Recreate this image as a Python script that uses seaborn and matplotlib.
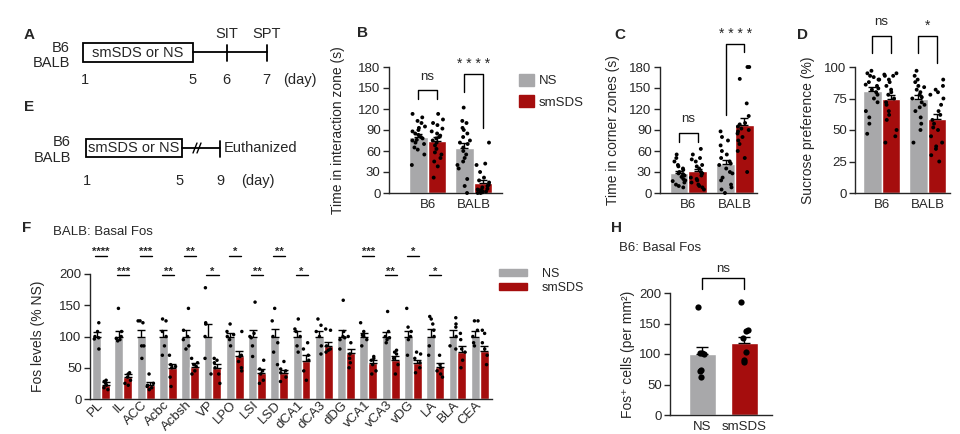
import numpy as np
import pandas as pd
import matplotlib
matplotlib.use("Agg")
import matplotlib.pyplot as plt
from matplotlib.patches import Patch, Rectangle
import seaborn as sns

sns.set_theme(style="ticks")
plt.rcParams["font.family"] = ["Liberation Sans", "DejaVu Sans"]
plt.rcParams["font.size"] = 9.5
plt.rcParams["axes.linewidth"] = 1.0
np.random.seed(7)  # only for dot jitter

GRAY = "#a8a8aa"
RED = "#a50d0d"
W, H = 960, 434

STRAINS = ["B6", "BALB"]
GROUPS = ["NS", "smSDS"]

# ---------------------------------------------------------------
# data (bar order: B6-NS, B6-smSDS, BALB-NS, BALB-smSDS)
# ---------------------------------------------------------------
SIT_MEAN = [80, 74, 65, 15]
SIT_SEM = [5, 6, 7, 4]
SIT_PTS = [
    [113, 108, 103, 100, 95, 93, 90, 88, 85, 83, 80, 78, 76, 75, 72, 70, 65, 62, 55, 40],
    [113, 105, 100, 97, 92, 88, 85, 82, 80, 78, 75, 72, 68, 63, 58, 55, 50, 45, 38, 22],
    [122, 103, 100, 93, 90, 85, 80, 75, 72, 70, 65, 60, 55, 50, 45, 40, 35, 20, 10, 0],
    [72, 42, 40, 30, 22, 18, 15, 12, 10, 8, 6, 5, 4, 3, 2, 1, 0, 0],
]

CORNER_MEAN = [29, 31, 42, 97]
CORNER_SEM = [3, 4, 5, 10]
CORNER_PTS = [
    [55, 50, 45, 40, 38, 35, 33, 30, 28, 27, 25, 23, 20, 18, 17, 15, 12, 10, 8],
    [63, 55, 50, 48, 45, 40, 38, 35, 30, 28, 25, 22, 20, 18, 15, 12, 10, 8, 5],
    [88, 80, 75, 68, 60, 55, 50, 45, 42, 40, 35, 30, 28, 22, 18, 12, 8, 5, 0],
    [180, 180, 163, 128, 110, 100, 98, 95, 92, 90, 88, 85, 80, 75, 70, 60, 50, 30],
]

SPT_MEAN = [81, 75, 75, 59]
SPT_SEM = [3, 3, 3, 4]
SPT_PTS = [
    [97, 95, 93, 92, 90, 90, 88, 86, 85, 83, 82, 80, 78, 75, 72, 65, 60, 55, 47],
    [95, 94, 93, 93, 90, 88, 85, 82, 80, 78, 75, 72, 70, 65, 62, 58, 50, 45, 40],
    [97, 93, 90, 88, 85, 84, 82, 80, 78, 76, 75, 72, 70, 68, 65, 60, 55, 50, 40],
    [90, 85, 82, 80, 78, 75, 70, 65, 62, 58, 55, 52, 50, 45, 40, 37, 35, 30, 25],
]

REGIONS = ["PL", "IL", "ACC", "Acbc", "Acbsh", "VP", "LPO", "LSI", "LSD",
           "dCA1", "dCA3", "dDG", "vCA1", "vCA3", "vDG", "LA", "BLA", "CEA"]
FOS_NS = [100] * 18
FOS_NS_SEM = [8, 9, 11, 10, 10, 20, 6, 10, 12, 9, 9, 10, 6, 8, 9, 12, 10, 9]
FOS_SDS = [23, 35, 23, 49, 52, 49, 69, 42, 41, 61, 85, 73, 57, 62, 57, 51, 76, 77]
FOS_SDS_SEM = [4, 5, 4, 7, 5, 7, 8, 6, 5, 9, 7, 7, 5, 7, 6, 7, 9, 8]
FOS_NS_PTS = [
    [122, 108, 100, 98, 96, 80], [145, 108, 100, 97, 95, 93], [125, 125, 122, 85, 85, 65],
    [128, 125, 108, 100, 85, 70], [145, 110, 100, 95, 85, 80], [178, 122, 120, 100, 65, 40],
    [120, 108, 103, 100, 95, 85], [155, 105, 100, 98, 85, 68], [145, 125, 100, 90, 75, 55],
    [128, 112, 108, 100, 85, 75], [128, 118, 108, 100, 85, 72], [158, 108, 100, 98, 95, 80],
    [122, 108, 102, 100, 95, 85], [140, 108, 100, 98, 95, 90], [145, 115, 108, 100, 95, 70],
    [132, 128, 120, 110, 100, 85, 70], [130, 120, 115, 100, 85, 80], [125, 125, 110, 100, 90, 85],
]
FOS_SDS_PTS = [
    [30, 28, 25, 22, 18, 15], [42, 40, 35, 30, 25, 22], [40, 25, 22, 20, 18, 15],
    [70, 55, 52, 50, 35, 20], [65, 58, 55, 52, 45, 40], [65, 62, 58, 50, 40, 25],
    [108, 70, 68, 60, 50, 45], [62, 48, 45, 40, 30, 25], [60, 48, 45, 42, 35, 28],
    [90, 80, 70, 62, 45, 30], [112, 110, 85, 80, 78, 75], [100, 90, 72, 65, 58, 50],
    [68, 65, 62, 55, 45, 40], [78, 75, 72, 65, 55, 40], [75, 72, 65, 58, 50, 42],
    [70, 55, 50, 45, 40, 35], [105, 95, 80, 75, 62, 50], [110, 105, 90, 80, 70, 55],
]
FOS_STARS = ["****", "***", "***", "**", "**", "*", "*", "**", "**",
             "*", "", "", "***", "**", "*", "*", "", ""]
FOS_STAR_Y = [229, 198, 229, 198, 229, 198, 229, 198, 229,
              198, 0, 0, 229, 198, 229, 198, 0, 0]

B6_FOS_MEAN = [100, 118]
B6_FOS_SEM = [12, 10]
B6_FOS_PTS = [[177, 102, 101, 100, 74, 72, 62], [185, 140, 137, 126, 103, 90, 87]]


# ---------------------------------------------------------------
def px_axes(fig, x0, y0, x1, y1):
    return fig.add_axes([x0 / W, 1 - y1 / H, (x1 - x0) / W, (y1 - y0) / H])


def bar_dots(ax, cats, means, sems, points, dot_size):
    mdf = pd.DataFrame({
        "cat": [c for c in cats for g in GROUPS],
        "group": [g for c in cats for g in GROUPS],
        "value": means,
    })
    sns.barplot(data=mdf, x="cat", y="value", hue="group", order=cats, hue_order=GROUPS,
                palette=[GRAY, RED], saturation=1, errorbar=None, legend=False, ax=ax)
    bars = sorted(ax.patches, key=lambda p: p.get_x())
    xs = [p.get_x() + p.get_width() / 2 for p in bars]
    ax.errorbar(xs, means, yerr=[np.zeros(len(sems)), sems], fmt="none", ecolor="black",
                elinewidth=1, capsize=3, capthick=1, zorder=3)
    rows = []
    i = 0
    for c in cats:
        for g in GROUPS:
            for v in points[i]:
                rows.append((c, g, v))
            i += 1
    pdf = pd.DataFrame(rows, columns=["cat", "group", "value"])
    sns.stripplot(data=pdf, x="cat", y="value", hue="group", order=cats, hue_order=GROUPS,
                  palette=["black", "black"], dodge=True, jitter=0.3, size=dot_size,
                  linewidth=0, legend=False, ax=ax, zorder=4)
    for coll in ax.collections:
        coll.set_clip_on(False)
    return xs


def style_axes(ax, ylim, yticks, ylabel, xlim, label_x):
    ax.set_ylim(*ylim)
    ax.set_yticks(yticks)
    ax.set_xlim(*xlim)
    ax.set_xlabel("")
    ax.set_ylabel(ylabel, fontsize=10)
    ax.yaxis.set_label_coords(label_x, 0.5)
    sns.despine(ax=ax)
    ax.tick_params(axis="y", length=4, width=1, pad=2, labelsize=9.5)
    ax.tick_params(axis="x", length=0, pad=4, labelsize=9.5)
    ax.patch.set_alpha(0)


def bracket(ax, x0, x1, top, lo0, lo1):
    ax.plot([x0, x0, x1, x1], [lo0, top, top, lo1], color="black", lw=1, clip_on=False)


fig = plt.figure(figsize=(W / 100, H / 100), dpi=100)

# overlay for schematic + panel letters (pixel coordinates)
ov = fig.add_axes([0, 0, 1, 1], zorder=-1)
ov.set_xlim(0, W)
ov.set_ylim(H, 0)
ov.axis("off")

for letter, (lx, ly) in {"A": (24, 35), "E": (24, 107), "B": (357, 33), "C": (614, 35),
                         "D": (797, 35), "F": (22, 228), "H": (611, 228)}.items():
    ov.text(lx, ly, letter, fontsize=11, fontweight="bold", va="center", ha="left")

# A: timeline
ov.text(70, 48, "B6", ha="right", va="center", fontsize=10.5)
ov.text(70, 63, "BALB", ha="right", va="center", fontsize=10.5)
ov.add_patch(Rectangle((83, 43), 110, 19, fill=False, lw=1.3, ec="black"))
ov.text(138, 53, "smSDS or NS", ha="center", va="center", fontsize=10.5)
ov.plot([193, 267], [52, 52], color="black", lw=1.3)
for tx, lab in [(227, "SIT"), (267, "SPT")]:
    ov.plot([tx, tx], [45, 61], color="black", lw=1.3)
    ov.text(tx, 34, lab, ha="center", va="center", fontsize=10.5)
for tx, lab in [(85, "1"), (193, "5"), (226, "6"), (266, "7"), (300, "(day)")]:
    ov.text(tx, 80, lab, ha="center", va="center", fontsize=10.5)

# E: timeline
ov.text(71, 142, "B6", ha="right", va="center", fontsize=10.5)
ov.text(71, 158, "BALB", ha="right", va="center", fontsize=10.5)
ov.add_patch(Rectangle((86, 139), 96, 18, fill=False, lw=1.3, ec="black"))
ov.text(134, 148, "smSDS or NS", ha="center", va="center", fontsize=10.5)
ov.plot([182, 220], [148, 148], color="black", lw=1.3)
for dx in (-2, 2):
    ov.plot([195 + dx, 199 + dx], [153, 143], color="black", lw=1)
ov.plot([220, 220], [141, 157], color="black", lw=1.3)
ov.text(224, 148, "Euthanized", ha="left", va="center", fontsize=10.5)
for tx, lab in [(87, "1"), (180, "5"), (220, "9"), (258, "(day)")]:
    ov.text(tx, 181, lab, ha="center", va="center", fontsize=10.5)

# B: social interaction
axB = px_axes(fig, 389, 67, 502, 193)
xs = bar_dots(axB, STRAINS, SIT_MEAN, SIT_SEM, SIT_PTS, 2.8)
style_axes(axB, (0, 180), range(0, 181, 30), "Time in interaction zone (s)", (-0.84, 1.62), -0.39)
bracket(axB, xs[0], xs[1], 147, 134, 134)
axB.text((xs[0] + xs[1]) / 2, 161, "ns", ha="center", va="baseline", fontsize=9.5)
bracket(axB, xs[2], xs[3], 170, 144, 93)
axB.text((xs[2] + xs[3]) / 2, 179, "* * * *", ha="center", va="baseline", fontsize=10)

# C: corner zones
axC = px_axes(fig, 660, 67, 757, 193)
xs = bar_dots(axC, STRAINS, CORNER_MEAN, CORNER_SEM, CORNER_PTS, 2.8)
style_axes(axC, (0, 180), range(0, 181, 30), "Time in corner zones (s)", (-0.61, 1.47), -0.41)
bracket(axC, xs[0], xs[1], 86, 73, 73)
axC.text((xs[0] + xs[1]) / 2, 102, "ns", ha="center", va="baseline", fontsize=9.5)
bracket(axC, xs[2], xs[3], 213, 111, 201)
axC.text((xs[2] + xs[3]) / 2, 222, "* * * *", ha="center", va="baseline", fontsize=10)

# D: sucrose preference
axD = px_axes(fig, 855, 67, 950, 193)
xs = bar_dots(axD, STRAINS, SPT_MEAN, SPT_SEM, SPT_PTS, 2.8)
style_axes(axD, (0, 100), range(0, 101, 25), "Sucrose preference (%)", (-0.58, 1.49), -0.42)
bracket(axD, xs[0], xs[1], 124.5, 111, 111)
axD.text((xs[0] + xs[1]) / 2, 133, "ns", ha="center", va="baseline", fontsize=9.5)
bracket(axD, xs[2], xs[3], 124.5, 111, 103)
axD.text((xs[2] + xs[3]) / 2, 129.8, "*", ha="center", va="baseline", fontsize=10)

fig.legend([Patch(color=GRAY), Patch(color=RED)], GROUPS, loc="upper left",
           bbox_to_anchor=(512 / W, 1 - 67 / H), frameon=False, borderpad=0,
           handlelength=1.2, handleheight=1.05, handletextpad=0.35, labelspacing=0.6,
           fontsize=9.5)

# F: BALB basal Fos
axF = px_axes(fig, 90, 274, 492, 399)
fos_means = [v for pair in zip(FOS_NS, FOS_SDS) for v in pair]
fos_sems = [v for pair in zip(FOS_NS_SEM, FOS_SDS_SEM) for v in pair]
fos_pts = [v for pair in zip(FOS_NS_PTS, FOS_SDS_PTS) for v in pair]
bar_dots(axF, REGIONS, fos_means, fos_sems, fos_pts, 2.5)
style_axes(axF, (0, 200), range(0, 201, 50), "Fos levels (% NS)", (-0.5, 17.55), -0.112)
axF.set_xticks(range(len(REGIONS)))
axF.set_xticklabels(REGIONS, rotation=45, ha="right", va="center", rotation_mode="anchor")
axF.tick_params(axis="x", pad=3)
for i, (st, sy) in enumerate(zip(FOS_STARS, FOS_STAR_Y)):
    if st:
        axF.plot([i - 0.27, i + 0.27], [sy, sy], color="black", lw=1, clip_on=False)
        axF.text(i, sy + 1, st, ha="center", va="baseline", fontsize=8, fontweight="bold")
axF.text(-2.16, 267, "BALB: Basal Fos", ha="left", va="center", fontsize=9.5, clip_on=False)
fig.legend([Patch(color=GRAY), Patch(color=RED)], GROUPS, loc="upper left",
           bbox_to_anchor=(493 / W, 1 - 262 / H), frameon=False, borderpad=0,
           handlelength=2.2, handleheight=0.5, handletextpad=1.2, labelspacing=0.15,
           fontsize=9)

# H: B6 basal Fos
axH = px_axes(fig, 670, 293, 772, 415)
hdf = pd.DataFrame({"group": GROUPS, "value": B6_FOS_MEAN})
sns.barplot(data=hdf, x="group", y="value", hue="group", palette=[GRAY, RED], saturation=1,
            errorbar=None, legend=False, width=0.65, ax=axH)
axH.errorbar([0, 1], B6_FOS_MEAN, yerr=[[0, 0], B6_FOS_SEM], fmt="none", ecolor="black",
             elinewidth=1, capsize=4, capthick=1, zorder=3)
hp = pd.DataFrame([(g, v) for g, pts in zip(GROUPS, B6_FOS_PTS) for v in pts],
                  columns=["group", "value"])
sns.stripplot(data=hp, x="group", y="value", color="black", jitter=0.12, size=4.5,
              linewidth=0, ax=axH, zorder=4)
style_axes(axH, (0, 200), range(0, 201, 50), "Fos\u207a cells (per mm\u00b2)", (-0.78, 1.67), -0.34)
bracket(axH, 0, 1, 225, 207, 207)
axH.text(0.5, 235, "ns", ha="center", va="baseline", fontsize=9.5)
axH.text(-2.01, 274, "B6: Basal Fos", ha="left", va="center", fontsize=9.5, clip_on=False)

fig.savefig("out.png", dpi=100)
